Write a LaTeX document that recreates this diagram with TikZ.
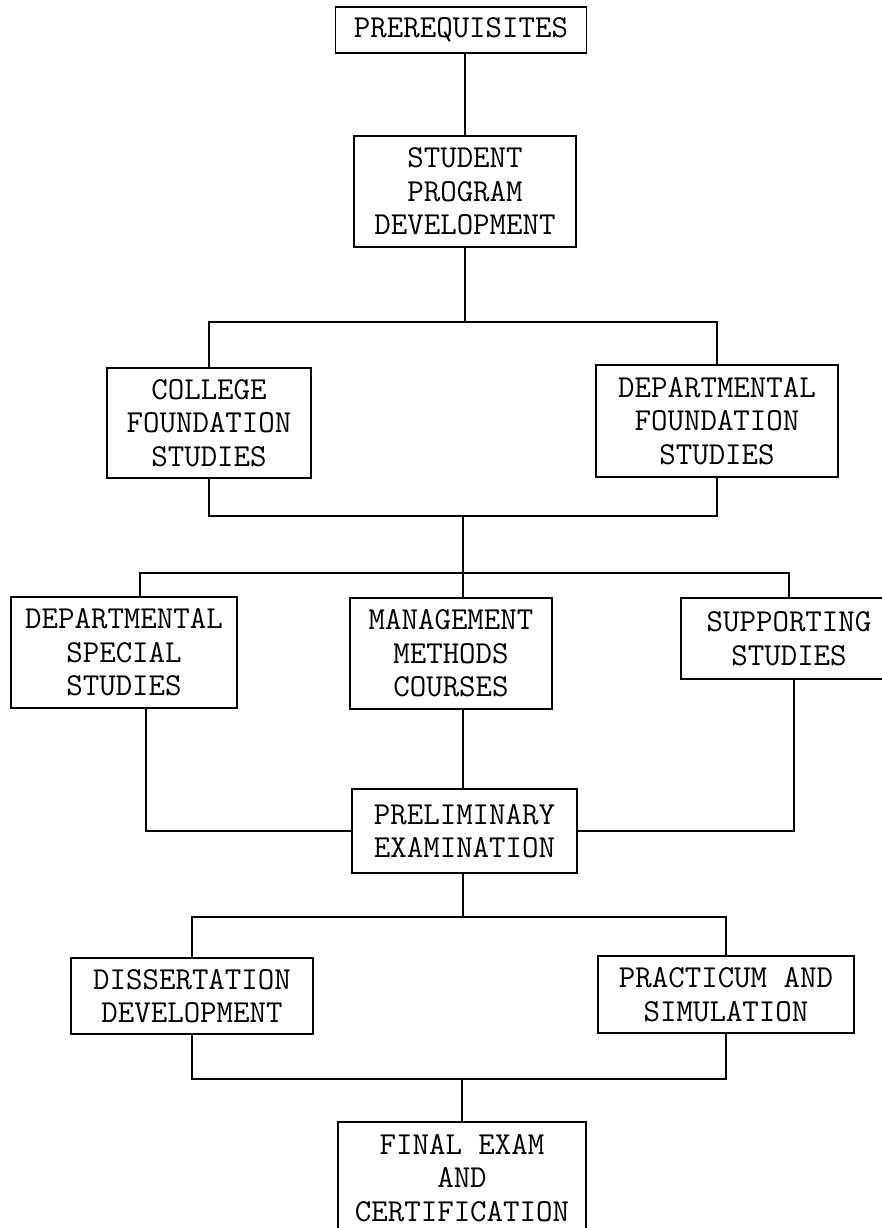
\documentclass[tikz,border=0pt]{standalone}
\usepackage{fontspec}
\usepackage{tikz}

\begin{document}
\begin{tikzpicture}[
    x=1pt, y=-1pt,
    box/.style={draw, line width=1.1pt, inner sep=0pt, align=center,
        font=\ttfamily\fontsize{32}{33.5}\selectfont},
    link/.style={line width=1.1pt}
]
\useasboundingbox (0,0) rectangle (882,1228);

% Boxes
\node[box, minimum width=251pt, minimum height=46pt]  (prereq)    at (461,30)    {PREREQUISITES};
\node[box, minimum width=222pt, minimum height=111pt] (student)   at (465,191.5) {STUDENT\\PROGRAM\\DEVELOPMENT};
\node[box, minimum width=204pt, minimum height=110pt] (college)   at (209,423)   {COLLEGE\\FOUNDATION\\STUDIES};
\node[box, minimum width=242pt, minimum height=112pt] (deptfound) at (717,421)   {DEPARTMENTAL\\FOUNDATION\\STUDIES};
\node[box, minimum width=226pt, minimum height=111pt] (deptspec)  at (124,652.5) {DEPARTMENTAL\\SPECIAL\\STUDIES};
\node[box, minimum width=202pt, minimum height=111pt] (mgmt)      at (451,653.5) {MANAGEMENT\\METHODS\\COURSES};
\node[box, minimum width=216pt, minimum height=81pt]  (support)   at (789,638.5) {SUPPORTING\\STUDIES};
\node[box, minimum width=225pt, minimum height=84pt]  (prelim)    at (464.5,831) {PRELIMINARY\\EXAMINATION};
\node[box, minimum width=242pt, minimum height=76pt]  (diss)      at (192,996)   {DISSERTATION\\DEVELOPMENT};
\node[box, minimum width=256pt, minimum height=77pt]  (pract)     at (726,994.5) {PRACTICUM AND\\SIMULATION};
\node[box, minimum width=248pt, minimum height=112pt] (final)     at (462,1178)  {FINAL EXAM\\AND\\CERTIFICATION};

% Junctions
\coordinate (fork1)  at (465,322);
\coordinate (merge1) at (463,516);
\coordinate (fork2)  at (463,573);
\coordinate (fork3)  at (463,917);
\coordinate (merge3) at (462,1079);

% Connectors
\draw[link] (student.north) -- (student.north |- prereq.south);
\draw[link] (student.south) -- (fork1);
\draw[link] (college.north) |- (fork1) -| (deptfound.north);
\draw[link] (college.south) |- (merge1) -| (deptfound.south);
\draw[link] (merge1) -- (fork2);
\draw[link] ([xshift=16pt]deptspec.north) |- (fork2) -| (support.north);
\draw[link] (fork2) -- (mgmt.north -| fork2);
\draw[link] (mgmt.south -| fork2) -- (prelim.north -| fork2);
\draw[link] ([xshift=22pt]deptspec.south) |- (prelim.west);
\draw[link] ([xshift=5pt]support.south) |- (prelim.east);
\draw[link] (prelim.south -| fork3) -- (fork3);
\draw[link] (diss.north) |- (fork3) -| (pract.north);
\draw[link] (diss.south) |- (merge3) -| (pract.south);
\draw[link] (merge3) -- (final.north -| merge3);

\end{tikzpicture}
\end{document}
